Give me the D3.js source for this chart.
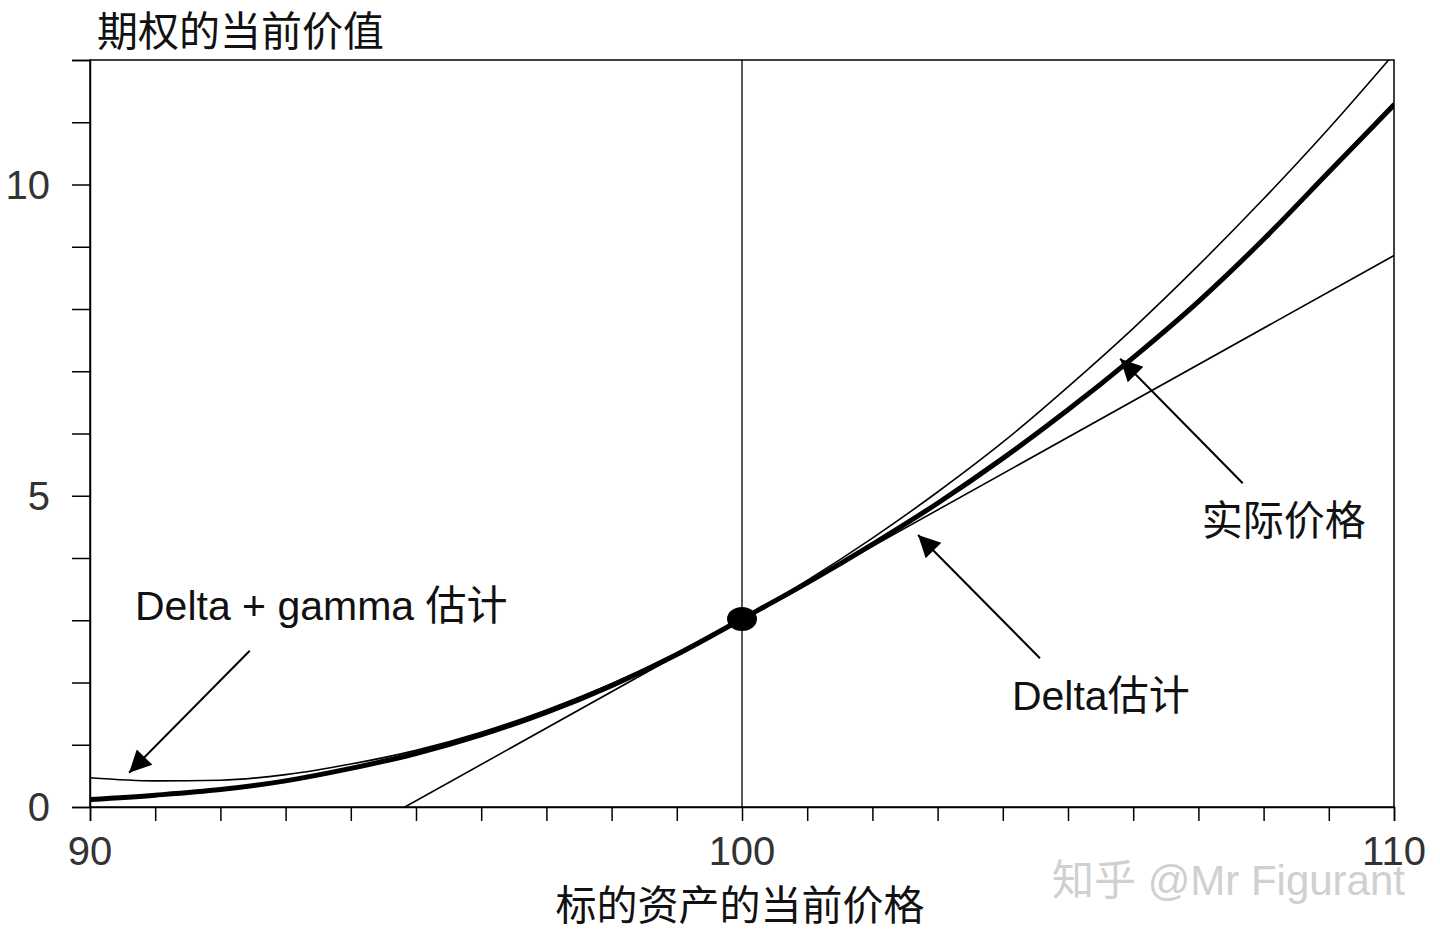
<!DOCTYPE html>
<html><head><meta charset="utf-8">
<script src="https://cdn.jsdelivr.net/npm/d3@7"></script>
<style>body{margin:0;background:#fff}svg{display:block}</style>
</head><body><svg id="c" width="1440" height="946"></svg>
<script>
const xTicks = d3.range(90, 111, 1);
const xTickLabels = [90, 100, 110];
const yTicks = d3.range(0, 13, 1);
const yTickLabels = [0, 5, 10];
const prices = [90,91,92,93,94,95,96,97,98,99,100,101,102,103,104,105,106,107,108,109,110];
const actual = [0.12,0.19,0.28,0.42,0.62,0.86,1.16,1.52,1.95,2.45,3.02,3.6,4.22,4.88,5.6,6.38,7.22,8.12,9.12,10.2,11.28];
const deltaGamma = [0.47,0.42,0.43,0.52,0.69,0.91,1.20,1.56,1.98,2.47,3.02,3.64,4.32,5.06,5.86,6.75,7.69,8.70,9.77,10.90,12.10];
const deltaLine = [[94.83,0],[110,8.86]];
const point = [100, 3.02];
const arrows = [ {from:[92.45,2.51], to:[90.6,0.55]}, {from:[104.57,2.39], to:[102.7,4.37]}, {from:[107.68,5.2], to:[105.8,7.2]} ];
const labels = [ {t:"Delta + gamma 估计", at:[90.69,3.0]}, {t:"Delta估计", at:[104.14,1.56]}, {t:"实际价格", at:[107.05,4.37]} ];

const svg = d3.select("#c");
const L=90,R=1394,T=60,B=807;
const x = d3.scaleLinear().domain([90,110]).range([L,R]);
const y = d3.scaleLinear().domain([0,12]).range([B,T]);
const font = "'Liberation Sans','Noto Sans CJK SC',sans-serif";

const defs = svg.append("defs");
defs.append("clipPath").attr("id","cp").append("rect").attr("x",L).attr("y",T).attr("width",R-L).attr("height",B-T);
defs.append("marker").attr("id","ah").attr("viewBox","0 0 10 10").attr("refX",10).attr("refY",5)
  .attr("markerUnits","userSpaceOnUse").attr("orient","auto")
  .attr("markerWidth",30).attr("markerHeight",22)
  .append("path").attr("d","M0,0L10,5L0,10z").attr("fill","#000");

svg.append("rect").attr("x",L).attr("y",T).attr("width",R-L).attr("height",B-T).attr("fill","none").attr("stroke","#000").attr("stroke-width",1.5);
const xa = svg.append("g").attr("transform",`translate(0,${B})`).call(d3.axisBottom(x).tickValues(xTicks).tickSize(14).tickFormat(""));
const ya = svg.append("g").attr("transform",`translate(${L},0)`).call(d3.axisLeft(y).tickValues(yTicks).tickSize(18).tickFormat(""));
[xa,ya].forEach(g=>{g.selectAll("line").attr("stroke","#000").attr("stroke-width",1.5);g.select(".domain").attr("stroke","#000").attr("stroke-width",1.5);});
svg.selectAll(".xl").data(xTickLabels).join("text").attr("x",d=>x(d)).attr("y",865).attr("text-anchor","middle")
  .attr("font-family",font).attr("font-size",40).attr("fill","#333").text(d=>d);
svg.selectAll(".yl").data(yTickLabels).join("text").attr("x",50).attr("y",d=>y(d)+14).attr("text-anchor","end")
  .attr("font-family",font).attr("font-size",40).attr("fill","#333").text(d=>d);

const g = svg.append("g").attr("clip-path","url(#cp)");
g.append("line").attr("x1",x(100)).attr("x2",x(100)).attr("y1",T).attr("y2",B).attr("stroke","#000").attr("stroke-width",1.3);
const line = d3.line().x(d=>x(d[0])).y(d=>y(d[1])).curve(d3.curveMonotoneX);
g.append("path").attr("d",line(prices.map((p,i)=>[p,deltaGamma[i]]))).attr("fill","none").attr("stroke","#000").attr("stroke-width",1.6);
g.append("path").attr("d",d3.line().x(d=>x(d[0])).y(d=>y(d[1]))(deltaLine)).attr("fill","none").attr("stroke","#000").attr("stroke-width",1.6);
g.append("path").attr("d",line(prices.map((p,i)=>[p,actual[i]]))).attr("fill","none").attr("stroke","#000").attr("stroke-width",5).attr("stroke-linecap","round");
svg.append("ellipse").attr("cx",x(point[0])).attr("cy",y(point[1])).attr("rx",15).attr("ry",12).attr("fill","#000");

svg.selectAll(".ar").data(arrows).join("line").attr("x1",d=>x(d.from[0])).attr("y1",d=>y(d.from[1]))
  .attr("x2",d=>x(d.to[0])).attr("y2",d=>y(d.to[1])).attr("stroke","#000").attr("stroke-width",2).attr("marker-end","url(#ah)");
svg.selectAll(".lb").data(labels).join("text").attr("x",d=>x(d.at[0])).attr("y",d=>y(d.at[1]))
  .attr("font-family",font).attr("font-size",41).attr("fill","#111").text(d=>d.t);

svg.append("text").attr("x",97).attr("y",46).attr("font-family",font).attr("font-size",41).attr("fill","#111").text("期权的当前价值");
svg.append("text").attr("x",740).attr("y",920).attr("text-anchor","middle").attr("font-family",font).attr("font-size",41).attr("fill","#111").text("标的资产的当前价格");
svg.append("text").attr("x",1405).attr("y",895).attr("text-anchor","end").attr("font-family",font).attr("font-size",42).attr("fill","#d0d0d0").text("知乎 @Mr Figurant");
</script></body></html>
